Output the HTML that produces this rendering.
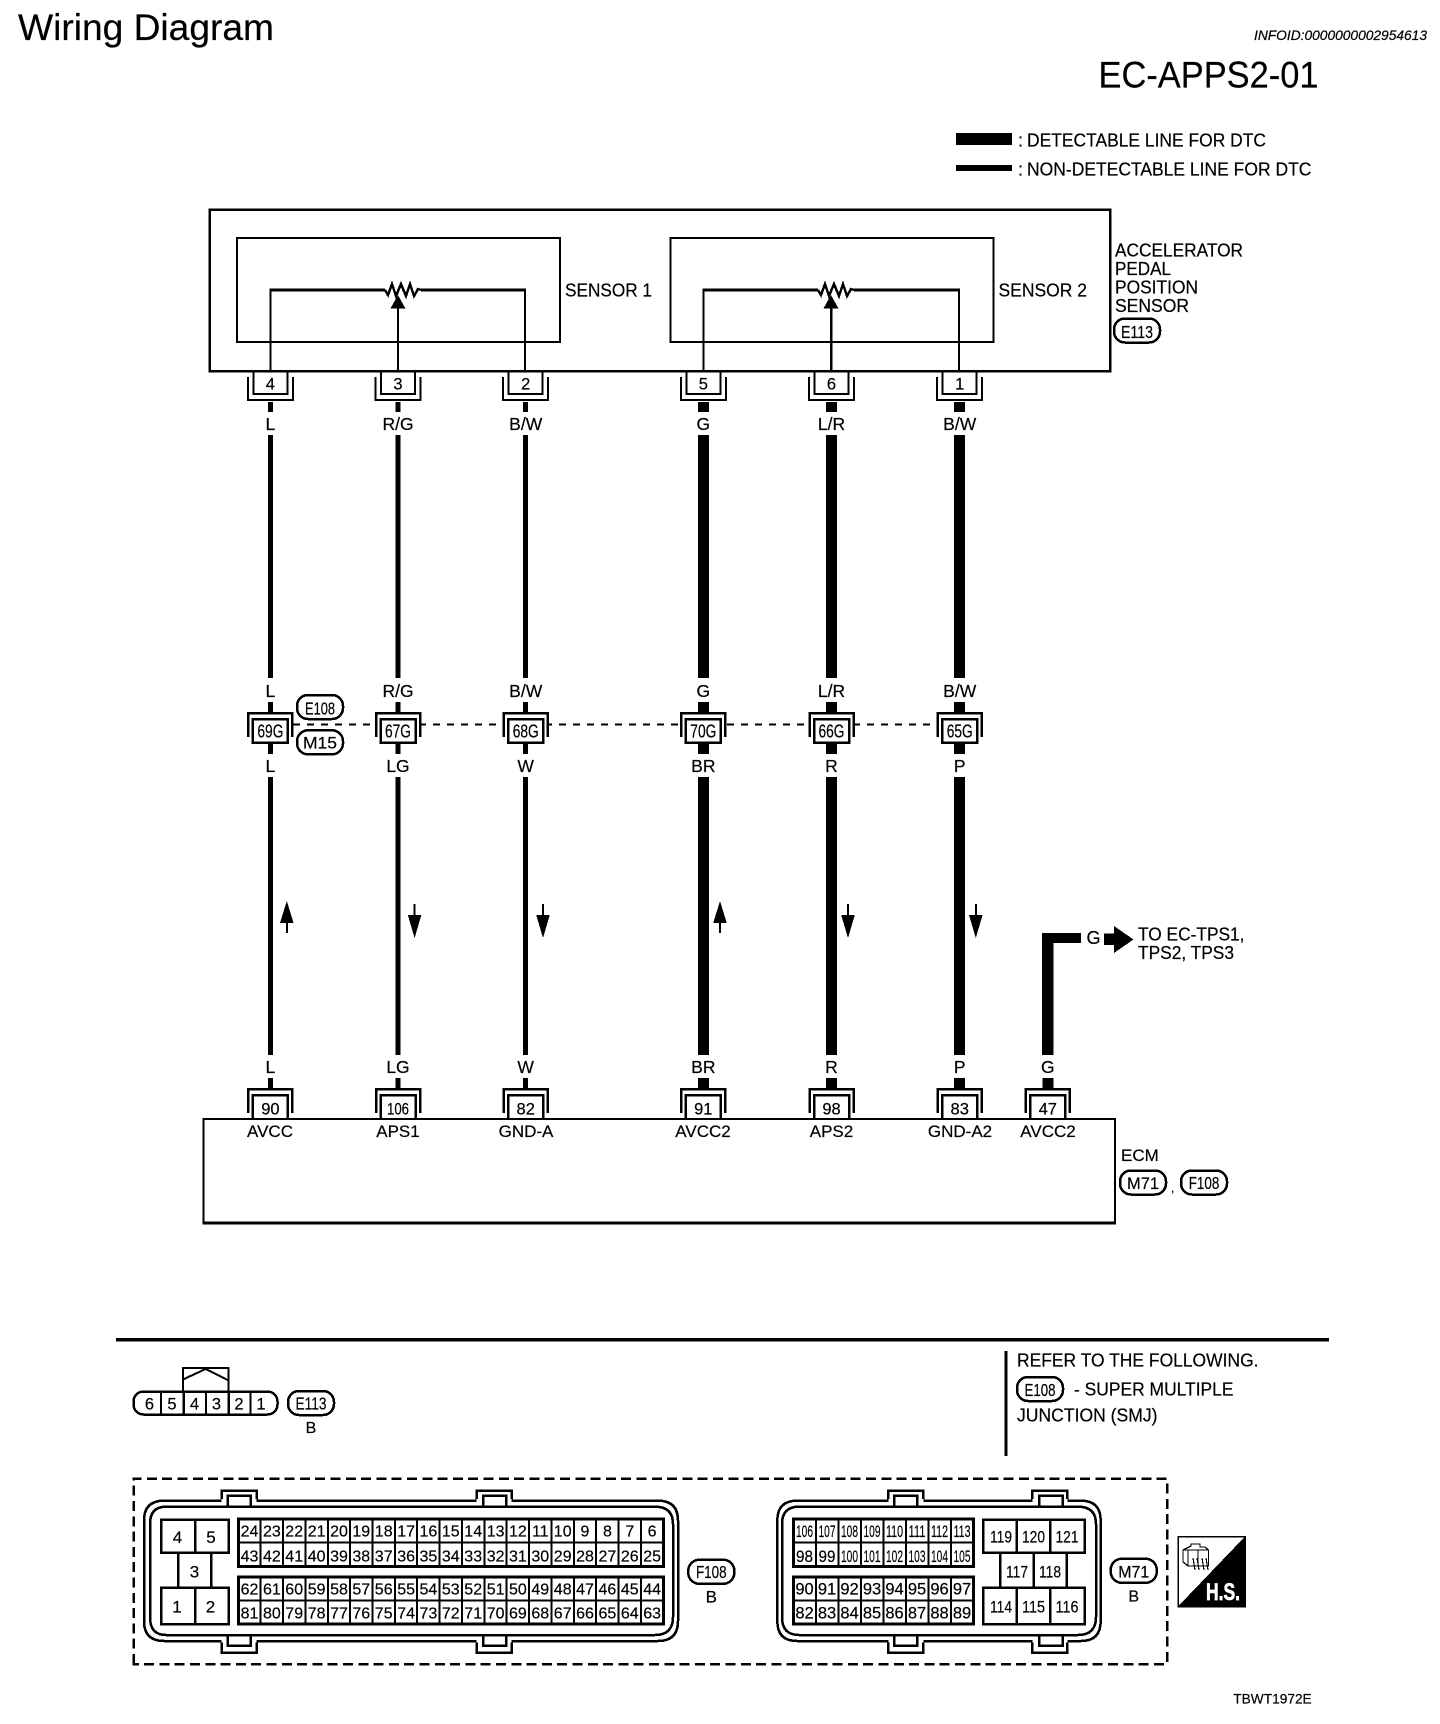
<!DOCTYPE html>
<html lang="en">
<head>
<meta charset="utf-8">
<title>Wiring Diagram EC-APPS2-01</title>
<style>
html,body{margin:0;padding:0;background:#fff}
svg{display:block}
text{font-family:"Liberation Sans",Arial,sans-serif;fill:#000;stroke:#000;stroke-width:.2}
.c{text-anchor:middle}
</style>
</head>
<body>
<svg xmlns="http://www.w3.org/2000/svg" width="1440" height="1724" viewBox="0 0 1440 1724" shape-rendering="crispEdges">
<defs>
<path id="w" d="M0,402V412M0,435V678M0,702V712M0,742V754M0,777V1055M0,1078V1088" fill="none" stroke="#000"/>
<g id="tc" fill="none" stroke="#000" stroke-width="2"><path d="M-17,371V394H17V371"/><path d="M-22.5,377V400H22.5V377"/></g>
<g id="jc"><rect x="-23" y="712" width="46" height="30" fill="#fff"/><path d="M-22,737V713H22V737" fill="none" stroke="#000" stroke-width="2.5"/><rect x="-17.5" y="719" width="35" height="23.5" fill="#fff" stroke="#000" stroke-width="2.5"/></g>
<g id="bc" fill="none" stroke="#000"><path d="M-22,1113V1089H22V1113" stroke-width="2.5"/><path d="M-17.5,1118V1095H17.5V1118" stroke-width="2.5"/></g>
<path id="ua" d="M0,901L-6.8,923H-1V933H1V923H6.8Z" fill="#000"/>
<path id="da" d="M-1,904H1V915H6.8L0,938L-6.8,915H-1Z" fill="#000"/>
<rect id="p" x="-23" y="-12" width="46" height="24" rx="11" ry="11" fill="#fff" stroke="#000" stroke-width="2.5"/>
<path id="res" fill="none" stroke="#000" stroke-width="2.5" d="M-17,0L-14,5L-10,-6L-6,6L-1,-6L4,6L8,-6L12,6L16,-1L19,0"/>
</defs>

<text x="18" y="40" font-size="37" textLength="256" lengthAdjust="spacingAndGlyphs">Wiring Diagram</text>
<text x="1254" y="40" font-size="13.5" font-style="italic" textLength="173" lengthAdjust="spacingAndGlyphs">INFOID:0000000002954613</text>
<text x="1098.5" y="87.3" font-size="37" textLength="220" lengthAdjust="spacingAndGlyphs">EC-APPS2-01</text>

<rect x="956" y="133" width="56" height="12" fill="#000"/>
<rect x="956" y="165" width="56" height="6" fill="#000"/>
<text x="1018" y="146.7" font-size="18">:</text>
<text x="1027" y="146.7" font-size="18" textLength="239" lengthAdjust="spacingAndGlyphs">DETECTABLE LINE FOR DTC</text>
<text x="1018" y="175.3" font-size="18">:</text>
<text x="1027" y="175.3" font-size="18" textLength="284.4" lengthAdjust="spacingAndGlyphs">NON-DETECTABLE LINE FOR DTC</text>

<rect x="209.5" y="209.5" width="900.5" height="161.5" fill="none" stroke="#000" stroke-width="2.5"/>
<rect x="237" y="238" width="323" height="104" fill="none" stroke="#000" stroke-width="2"/>
<rect x="670.5" y="238" width="323" height="104" fill="none" stroke="#000" stroke-width="2"/>
<path d="M270.4,371V290M525,290V371M703.4,371V290M959,290V371" fill="none" stroke="#000" stroke-width="2"/>
<path d="M269.4,290H385M421,290H526M702.4,290H818M854,290H960" fill="none" stroke="#000" stroke-width="3"/>
<use href="#res" x="402" y="290"/>
<use href="#res" x="835" y="290"/>
<path d="M398,371V306" stroke="#000" stroke-width="2" fill="none"/>
<path d="M831,371V306" stroke="#000" stroke-width="2.5" fill="none"/>
<path d="M398,295L390.5,308.5H405.5Z M831,295L823.5,308.5H838.5Z" fill="#000"/>
<text x="565" y="296.5" font-size="18" textLength="87" lengthAdjust="spacingAndGlyphs">SENSOR 1</text>
<text x="998.5" y="296.5" font-size="18" textLength="88.5" lengthAdjust="spacingAndGlyphs">SENSOR 2</text>
<text x="1115" y="256.7" font-size="18" textLength="128" lengthAdjust="spacingAndGlyphs">ACCELERATOR</text>
<text x="1115" y="275" font-size="18" textLength="56" lengthAdjust="spacingAndGlyphs">PEDAL</text>
<text x="1115" y="293.7" font-size="18" textLength="83" lengthAdjust="spacingAndGlyphs">POSITION</text>
<text x="1115" y="312" font-size="18" textLength="74" lengthAdjust="spacingAndGlyphs">SENSOR</text>
<use href="#p" x="1137" y="330.5"/>
<text class="c" x="1137" y="338" font-size="17.5" textLength="32" lengthAdjust="spacingAndGlyphs">E113</text>

<path d="M293,724.7H960" fill="none" stroke="#000" stroke-width="2" stroke-dasharray="7 7"/>

<use href="#w" x="270.4" stroke-width="5"/>
<use href="#w" x="398" stroke-width="5"/>
<use href="#w" x="525.7" stroke-width="5"/>
<use href="#w" x="703.3" stroke-width="11"/>
<use href="#w" x="831.5" stroke-width="11"/>
<use href="#w" x="959.7" stroke-width="11"/>
<path d="M1047.8,1078V1088" stroke="#000" stroke-width="11" fill="none"/>
<path d="M1081,933H1042V1055H1053.5V943H1081Z" fill="#000"/>

<use href="#tc" x="270.4"/><use href="#tc" x="398"/><use href="#tc" x="525.7"/><use href="#tc" x="703.3"/><use href="#tc" x="831.5"/><use href="#tc" x="959.7"/>
<g font-size="16.5" class="c">
<text x="270.4" y="389.3">4</text><text x="398" y="389.3">3</text><text x="525.7" y="389.3">2</text><text x="703.3" y="389.3">5</text><text x="831.5" y="389.3">6</text><text x="959.7" y="389.3">1</text>
</g>
<g font-size="17.5" class="c">
<text x="270.4" y="430">L</text><text x="398" y="430">R/G</text><text x="525.7" y="430">B/W</text><text x="703.3" y="430">G</text><text x="831.5" y="430">L/R</text><text x="959.7" y="430">B/W</text>
<text x="270.4" y="697">L</text><text x="398" y="697">R/G</text><text x="525.7" y="697">B/W</text><text x="703.3" y="697">G</text><text x="831.5" y="697">L/R</text><text x="959.7" y="697">B/W</text>
<text x="270.4" y="772">L</text><text x="398" y="772">LG</text><text x="525.7" y="772">W</text><text x="703.3" y="772">BR</text><text x="831.5" y="772">R</text><text x="959.7" y="772">P</text>
<text x="270.4" y="1073">L</text><text x="398" y="1073">LG</text><text x="525.7" y="1073">W</text><text x="703.3" y="1073">BR</text><text x="831.5" y="1073">R</text><text x="959.7" y="1073">P</text><text x="1047.8" y="1073">G</text>
</g>

<use href="#jc" x="270.4"/><use href="#jc" x="398"/><use href="#jc" x="525.7"/><use href="#jc" x="703.3"/><use href="#jc" x="831.5"/><use href="#jc" x="959.7"/>
<g font-size="18" class="c">
<text x="270.4" y="737.5" textLength="26" lengthAdjust="spacingAndGlyphs">69G</text>
<text x="398" y="737.5" textLength="26" lengthAdjust="spacingAndGlyphs">67G</text>
<text x="525.7" y="737.5" textLength="26" lengthAdjust="spacingAndGlyphs">68G</text>
<text x="703.3" y="737.5" textLength="26" lengthAdjust="spacingAndGlyphs">70G</text>
<text x="831.5" y="737.5" textLength="26" lengthAdjust="spacingAndGlyphs">66G</text>
<text x="959.7" y="737.5" textLength="26" lengthAdjust="spacingAndGlyphs">65G</text>
</g>
<use href="#p" x="320" y="707"/>
<text class="c" x="320" y="714.5" font-size="17.5" textLength="30" lengthAdjust="spacingAndGlyphs">E108</text>
<use href="#p" x="320" y="742.3"/>
<text class="c" x="320" y="748.5" font-size="17" textLength="34" lengthAdjust="spacingAndGlyphs">M15</text>

<use href="#ua" x="286.8"/><use href="#da" x="414.6"/><use href="#da" x="543"/><use href="#ua" x="720"/><use href="#da" x="848"/><use href="#da" x="975.8"/>

<text x="1086.5" y="944" font-size="18">G</text>
<path d="M1104,933.5H1114V926L1133.5,939.5L1114,953V945H1104Z" fill="#000"/>
<text x="1138" y="940.7" font-size="18" textLength="106.5" lengthAdjust="spacingAndGlyphs">TO EC-TPS1,</text>
<text x="1138" y="959" font-size="18" textLength="96" lengthAdjust="spacingAndGlyphs">TPS2, TPS3</text>

<path d="M203.5,1223.5V1119H1115V1223.5Z" fill="none" stroke="#000" stroke-width="2"/>
<path d="M203,1223H1115.5" stroke="#000" stroke-width="3" fill="none"/>
<use href="#bc" x="270.4"/><use href="#bc" x="398"/><use href="#bc" x="525.7"/><use href="#bc" x="703.3"/><use href="#bc" x="831.5"/><use href="#bc" x="959.7"/><use href="#bc" x="1047.8"/>
<g font-size="16.5" class="c">
<text x="270.4" y="1114.5">90</text>
<text x="398" y="1114.5" textLength="22" lengthAdjust="spacingAndGlyphs">106</text>
<text x="525.7" y="1114.5">82</text>
<text x="703.3" y="1114.5">91</text>
<text x="831.5" y="1114.5">98</text>
<text x="959.7" y="1114.5">83</text>
<text x="1047.8" y="1114.5">47</text>
</g>
<g font-size="17" class="c">
<text x="270" y="1137">AVCC</text><text x="398" y="1137">APS1</text><text x="526" y="1137">GND-A</text><text x="703" y="1137">AVCC2</text><text x="831.5" y="1137">APS2</text><text x="960" y="1137">GND-A2</text><text x="1048" y="1137">AVCC2</text>
</g>
<text x="1121" y="1161" font-size="17">ECM</text>
<use href="#p" x="1143" y="1182.5"/>
<text class="c" x="1143" y="1189" font-size="17" textLength="32" lengthAdjust="spacingAndGlyphs">M71</text>
<text x="1171" y="1192" font-size="12">,</text>
<use href="#p" x="1204" y="1182.5"/>
<text class="c" x="1204" y="1189" font-size="17.5" textLength="30.6" lengthAdjust="spacingAndGlyphs">F108</text>

<rect x="116" y="1338" width="1213" height="3.5" fill="#000"/>
<rect x="1004.5" y="1351" width="3" height="105" fill="#000"/>
<text x="1017" y="1366.7" font-size="18" textLength="241.5" lengthAdjust="spacingAndGlyphs">REFER TO THE FOLLOWING.</text>
<use href="#p" x="1040" y="1389"/>
<text class="c" x="1040" y="1396" font-size="17.5" textLength="31" lengthAdjust="spacingAndGlyphs">E108</text>
<text x="1074" y="1395.5" font-size="18" textLength="159.5" lengthAdjust="spacingAndGlyphs">- SUPER MULTIPLE</text>
<text x="1017" y="1421.5" font-size="18" textLength="140.5" lengthAdjust="spacingAndGlyphs">JUNCTION (SMJ)</text>

<path d="M183,1391V1368H228.5V1391" fill="none" stroke="#000" stroke-width="2"/>
<path d="M183,1379.5L205.6,1369L228.5,1380.5" fill="none" stroke="#000" stroke-width="2"/>
<rect x="133.5" y="1391.5" width="144" height="23" rx="10" ry="10" fill="#fff" stroke="#000" stroke-width="2.5"/>
<path d="M161,1391V1415M206,1391V1415M250.5,1391V1415" fill="none" stroke="#000" stroke-width="2"/>
<path d="M183.5,1391V1415M228.5,1391V1415" fill="none" stroke="#000" stroke-width="2.5"/>
<g font-size="16.5" class="c">
<text x="149.5" y="1409.5">6</text><text x="172" y="1409.5">5</text><text x="194.5" y="1409.5">4</text><text x="216.5" y="1409.5">3</text><text x="239" y="1409.5">2</text><text x="261" y="1409.5">1</text>
</g>
<use href="#p" x="311" y="1403"/>
<text class="c" x="311" y="1409.5" font-size="17.5" textLength="31" lengthAdjust="spacingAndGlyphs">E113</text>
<text class="c" x="311" y="1433" font-size="16">B</text>

<path d="M133.5,1664V1478.5H1167V1664Z" fill="none" stroke="#000" stroke-width="2.5" stroke-dasharray="10 5.3"/>

<!-- F108 shell -->
<path d="M164,1500.7H221.7V1490.5H256.7V1500.7H476.7V1490.5H511.7V1500.7H658Q678,1500.7 678,1520.7V1621Q678,1641 658,1641H511.7V1652.5H476.7V1641H256.7V1652.5H221.7V1641H164Q144,1641 144,1621V1520.7Q144,1500.7 164,1500.7Z" fill="none" stroke="#000" stroke-width="2.5"/>
<path d="M166,1506.7H655Q673,1506.7 673,1524V1617Q673,1635 655,1635H166Q150,1635 150,1617V1524Q150,1506.7 166,1506.7Z" fill="none" stroke="#000" stroke-width="2.5"/>
<path d="M221.7,1500.7H256.7M476.7,1500.7H511.7M221.7,1641H256.7M476.7,1641H511.7" stroke="#fff" stroke-width="3" fill="none"/>
<path d="M227.5,1506.7V1495.5H250.5V1506.7M483,1506.7V1495.5H506V1506.7M227.5,1635V1645.5H250.5V1635M483,1635V1645.5H506V1635" fill="none" stroke="#000" stroke-width="2.5"/>

<!-- F108 left block -->
<g fill="none" stroke="#000" stroke-width="2.5">
<path d="M161,1519.5H228.5V1552.5H161ZM195,1519.5V1552.5M161,1587.5H228.5V1624H161ZM195,1587.5V1624M178,1552.5V1587.5M211,1552.5V1587.5"/>
</g>
<g font-size="17" class="c">
<text x="177.5" y="1543">4</text><text x="211" y="1543">5</text><text x="194.5" y="1577.5">3</text><text x="177" y="1612.5">1</text><text x="210.5" y="1612.5">2</text>
</g>

<!-- F108 pin grid -->
<g fill="none" stroke="#000">
<rect x="238.5" y="1519" width="425" height="47.5" stroke-width="3"/>
<rect x="238.5" y="1577" width="425" height="47" stroke-width="3"/>
<path stroke-width="2" d="M238,1542.5H664M238,1600.5H664M260.7,1519V1566M283,1519V1566M305.4,1519V1566M327.8,1519V1566M350.1,1519V1566M372.5,1519V1566M394.9,1519V1566M417.2,1519V1566M439.6,1519V1566M462,1519V1566M484.4,1519V1566M506.7,1519V1566M529.1,1519V1566M551.5,1519V1566M573.8,1519V1566M596.2,1519V1566M618.6,1519V1566M640.9,1519V1566M260.7,1577V1624M283,1577V1624M305.4,1577V1624M327.8,1577V1624M350.1,1577V1624M372.5,1577V1624M394.9,1577V1624M417.2,1577V1624M439.6,1577V1624M462,1577V1624M484.4,1577V1624M506.7,1577V1624M529.1,1577V1624M551.5,1577V1624M573.8,1577V1624M596.2,1577V1624M618.6,1577V1624M640.9,1577V1624"/>
</g>
<g font-size="16" class="c">
<text x="249.5" y="1536.7">24</text><text x="271.9" y="1536.7">23</text><text x="294.2" y="1536.7">22</text><text x="316.6" y="1536.7">21</text><text x="339" y="1536.7">20</text><text x="361.3" y="1536.7">19</text><text x="383.7" y="1536.7">18</text><text x="406.1" y="1536.7">17</text><text x="428.4" y="1536.7">16</text><text x="450.8" y="1536.7">15</text><text x="473.2" y="1536.7">14</text><text x="495.6" y="1536.7">13</text><text x="517.9" y="1536.7">12</text><text x="540.3" y="1536.7">11</text><text x="562.7" y="1536.7">10</text><text x="585" y="1536.7">9</text><text x="607.4" y="1536.7">8</text><text x="629.8" y="1536.7">7</text><text x="652.1" y="1536.7">6</text>
<text x="249.5" y="1561.7">43</text><text x="271.9" y="1561.7">42</text><text x="294.2" y="1561.7">41</text><text x="316.6" y="1561.7">40</text><text x="339" y="1561.7">39</text><text x="361.3" y="1561.7">38</text><text x="383.7" y="1561.7">37</text><text x="406.1" y="1561.7">36</text><text x="428.4" y="1561.7">35</text><text x="450.8" y="1561.7">34</text><text x="473.2" y="1561.7">33</text><text x="495.6" y="1561.7">32</text><text x="517.9" y="1561.7">31</text><text x="540.3" y="1561.7">30</text><text x="562.7" y="1561.7">29</text><text x="585" y="1561.7">28</text><text x="607.4" y="1561.7">27</text><text x="629.8" y="1561.7">26</text><text x="652.1" y="1561.7">25</text>
<text x="249.5" y="1594.5">62</text><text x="271.9" y="1594.5">61</text><text x="294.2" y="1594.5">60</text><text x="316.6" y="1594.5">59</text><text x="339" y="1594.5">58</text><text x="361.3" y="1594.5">57</text><text x="383.7" y="1594.5">56</text><text x="406.1" y="1594.5">55</text><text x="428.4" y="1594.5">54</text><text x="450.8" y="1594.5">53</text><text x="473.2" y="1594.5">52</text><text x="495.6" y="1594.5">51</text><text x="517.9" y="1594.5">50</text><text x="540.3" y="1594.5">49</text><text x="562.7" y="1594.5">48</text><text x="585" y="1594.5">47</text><text x="607.4" y="1594.5">46</text><text x="629.8" y="1594.5">45</text><text x="652.1" y="1594.5">44</text>
<text x="249.5" y="1618.5">81</text><text x="271.9" y="1618.5">80</text><text x="294.2" y="1618.5">79</text><text x="316.6" y="1618.5">78</text><text x="339" y="1618.5">77</text><text x="361.3" y="1618.5">76</text><text x="383.7" y="1618.5">75</text><text x="406.1" y="1618.5">74</text><text x="428.4" y="1618.5">73</text><text x="450.8" y="1618.5">72</text><text x="473.2" y="1618.5">71</text><text x="495.6" y="1618.5">70</text><text x="517.9" y="1618.5">69</text><text x="540.3" y="1618.5">68</text><text x="562.7" y="1618.5">67</text><text x="585" y="1618.5">66</text><text x="607.4" y="1618.5">65</text><text x="629.8" y="1618.5">64</text><text x="652.1" y="1618.5">63</text>
</g>
<use href="#p" x="711.3" y="1571.8"/>
<text class="c" x="711.3" y="1578" font-size="17.5" textLength="30.7" lengthAdjust="spacingAndGlyphs">F108</text>
<text class="c" x="711.3" y="1602.3" font-size="17">B</text>

<!-- M71 shell -->
<path d="M797,1500.7H888.3V1490.5H923.3V1500.7H1032.3V1490.5H1067.3V1500.7H1081Q1100.7,1500.7 1100.7,1520.7V1621Q1100.7,1641 1081,1641H1067.3V1652.5H1032.3V1641H923.3V1652.5H888.3V1641H797Q777.3,1641 777.3,1621V1520.7Q777.3,1500.7 797,1500.7Z" fill="none" stroke="#000" stroke-width="2.5"/>
<path d="M799,1506.7H1078Q1096,1506.7 1096,1524V1617Q1096,1635 1078,1635H799Q782,1635 782,1617V1524Q782,1506.7 799,1506.7Z" fill="none" stroke="#000" stroke-width="2.5"/>
<path d="M888.3,1500.7H923.3M1032.3,1500.7H1067.3M888.3,1641H923.3M1032.3,1641H1067.3" stroke="#fff" stroke-width="3" fill="none"/>
<path d="M894.3,1506.7V1495.5H917.3V1506.7M1039.3,1506.7V1495.5H1062.7V1506.7M894.3,1635V1645.5H917.3V1635M1039.3,1635V1645.5H1062.7V1635" fill="none" stroke="#000" stroke-width="2.5"/>

<!-- M71 pin grid -->
<g fill="none" stroke="#000">
<rect x="793.5" y="1519" width="180" height="47.5" stroke-width="3"/>
<rect x="793.5" y="1577" width="180" height="47" stroke-width="3"/>
<path stroke-width="2" d="M793,1542.5H974M793,1600.5H974M815.8,1519V1566M838.3,1519V1566M860.8,1519V1566M883.3,1519V1566M905.8,1519V1566M928.3,1519V1566M950.8,1519V1566M815.8,1577V1624M838.3,1577V1624M860.8,1577V1624M883.3,1577V1624M905.8,1577V1624M928.3,1577V1624M950.8,1577V1624"/>
</g>
<g font-size="17" class="c">
<text x="804.5" y="1537" textLength="17" lengthAdjust="spacingAndGlyphs">106</text><text x="827" y="1537" textLength="17" lengthAdjust="spacingAndGlyphs">107</text><text x="849.5" y="1537" textLength="17" lengthAdjust="spacingAndGlyphs">108</text><text x="872" y="1537" textLength="17" lengthAdjust="spacingAndGlyphs">109</text><text x="894.5" y="1537" textLength="17" lengthAdjust="spacingAndGlyphs">110</text><text x="917" y="1537" textLength="17" lengthAdjust="spacingAndGlyphs">111</text><text x="939.5" y="1537" textLength="17" lengthAdjust="spacingAndGlyphs">112</text><text x="962" y="1537" textLength="17" lengthAdjust="spacingAndGlyphs">113</text>
<text x="804.5" y="1562" textLength="17" lengthAdjust="spacingAndGlyphs">98</text><text x="827" y="1562" textLength="17" lengthAdjust="spacingAndGlyphs">99</text><text x="849.5" y="1562" textLength="17" lengthAdjust="spacingAndGlyphs">100</text><text x="872" y="1562" textLength="17" lengthAdjust="spacingAndGlyphs">101</text><text x="894.5" y="1562" textLength="17" lengthAdjust="spacingAndGlyphs">102</text><text x="917" y="1562" textLength="17" lengthAdjust="spacingAndGlyphs">103</text><text x="939.5" y="1562" textLength="17" lengthAdjust="spacingAndGlyphs">104</text><text x="962" y="1562" textLength="17" lengthAdjust="spacingAndGlyphs">105</text>
</g>
<g font-size="16.5" class="c">
<text x="804.5" y="1594.5">90</text><text x="827" y="1594.5">91</text><text x="849.5" y="1594.5">92</text><text x="872" y="1594.5">93</text><text x="894.5" y="1594.5">94</text><text x="917" y="1594.5">95</text><text x="939.5" y="1594.5">96</text><text x="962" y="1594.5">97</text>
<text x="804.5" y="1618.5">82</text><text x="827" y="1618.5">83</text><text x="849.5" y="1618.5">84</text><text x="872" y="1618.5">85</text><text x="894.5" y="1618.5">86</text><text x="917" y="1618.5">87</text><text x="939.5" y="1618.5">88</text><text x="962" y="1618.5">89</text>
</g>

<!-- M71 right block -->
<g fill="none" stroke="#000" stroke-width="2.5">
<path d="M983,1519.5H1084.5V1552.5H983ZM1016.5,1519.5V1552.5M1050,1519.5V1552.5M983,1587.5H1084.5V1624H983ZM1016.5,1587.5V1624M1050,1587.5V1624M1000,1552.5V1587.5M1033.5,1552.5V1587.5M1066.5,1552.5V1587.5"/>
</g>
<g font-size="17" class="c">
<text x="1001" y="1542.7" textLength="22" lengthAdjust="spacingAndGlyphs">119</text><text x="1033.5" y="1542.7" textLength="23" lengthAdjust="spacingAndGlyphs">120</text><text x="1067" y="1542.7" textLength="23" lengthAdjust="spacingAndGlyphs">121</text>
<text x="1017" y="1577.3" textLength="22" lengthAdjust="spacingAndGlyphs">117</text><text x="1050" y="1577.3" textLength="22" lengthAdjust="spacingAndGlyphs">118</text>
<text x="1001" y="1612.7" textLength="22" lengthAdjust="spacingAndGlyphs">114</text><text x="1033.5" y="1612.7" textLength="23" lengthAdjust="spacingAndGlyphs">115</text><text x="1067" y="1612.7" textLength="23" lengthAdjust="spacingAndGlyphs">116</text>
</g>
<use href="#p" x="1133.7" y="1570.8"/>
<text class="c" x="1133.7" y="1577.3" font-size="17" textLength="31" lengthAdjust="spacingAndGlyphs">M71</text>
<text class="c" x="1133.7" y="1601.7" font-size="16">B</text>

<!-- H.S. icon -->
<rect x="1178" y="1536.5" width="67" height="70" fill="#fff" stroke="#000" stroke-width="1.5"/>
<path d="M1245,1536.5V1606.5H1178Z" fill="#000"/>
<g fill="none" stroke="#000" stroke-width="1.2">
<path d="M1183,1550L1191,1546V1544H1200V1547H1205L1208.5,1550V1566H1188L1183,1562ZM1183,1550H1188V1566M1188,1550H1208.5M1198,1550V1566"/>
<path d="M1193,1558L1195,1570M1197,1558L1199,1570M1202,1558L1204,1570M1206,1558L1208,1570"/>
</g>
<text x="1206" y="1600" font-size="24" font-weight="bold" style="fill:#fff;stroke:#fff;stroke-width:.7" textLength="34" lengthAdjust="spacingAndGlyphs">H.S.</text>

<text x="1233.3" y="1703.3" font-size="14" textLength="78.4" lengthAdjust="spacingAndGlyphs">TBWT1972E</text>
</svg>
</body>
</html>
